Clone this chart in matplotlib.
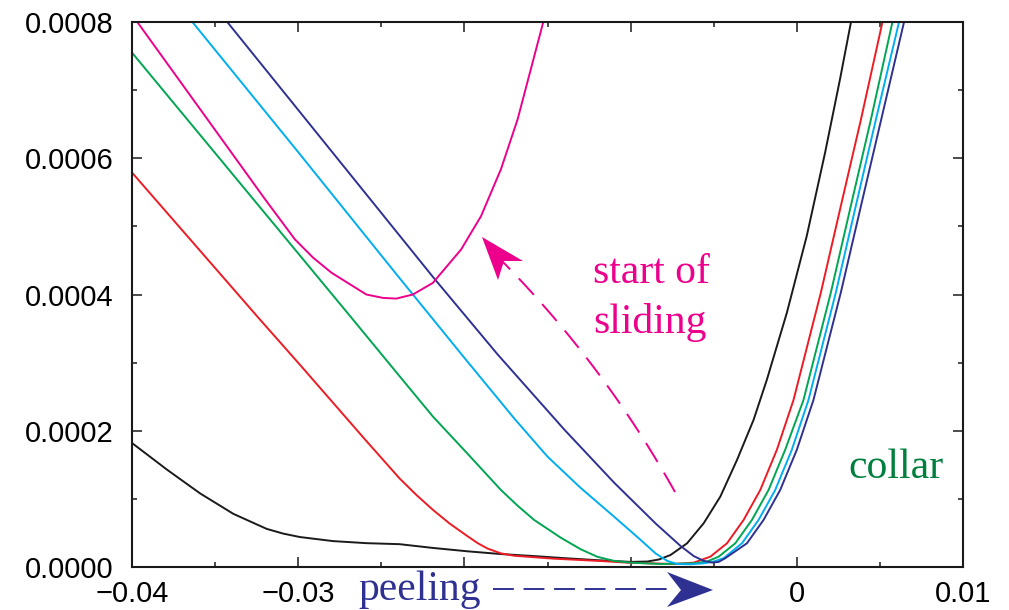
import numpy as np
import matplotlib
matplotlib.use("Agg")
import matplotlib.pyplot as plt
from matplotlib.lines import Line2D
from matplotlib.patches import Polygon
from matplotlib.ticker import MultipleLocator, FixedLocator, FixedFormatter

plt.rcParams['lines.scale_dashes'] = False

# ---------------- data (y in units of 1e-4) ----------------
black_x = [-0.0400, -0.0379, -0.0359, -0.0339, -0.0319, -0.0309, -0.0299, -0.0279, -0.0259,
           -0.0239, -0.0219, -0.0198, -0.0178, -0.0158, -0.0140, -0.0120, -0.0100, -0.0090,
           -0.0083, -0.0076, -0.0066, -0.0056, -0.0046, -0.0036, -0.0026, -0.0018, -0.0006,
           0.0006, 0.0017, 0.0026, 0.0033]
black_y = [1.82, 1.43, 1.08, 0.78, 0.56, 0.49, 0.44, 0.38, 0.35,
           0.335, 0.28, 0.23, 0.19, 0.16, 0.13, 0.10, 0.075, 0.08,
           0.11, 0.176, 0.348, 0.643, 1.034, 1.57, 2.16, 2.75, 3.73,
           4.86, 6.08, 7.16, 8.05]

red_x = [-0.0400, -0.0324, -0.0299, -0.0279, -0.0259, -0.0239, -0.0229, -0.0219, -0.0209,
         -0.0198, -0.0192, -0.0186, -0.0178, -0.0170, -0.0146, -0.0118, -0.0102, -0.0074,
         -0.0062, -0.0052, -0.0042, -0.0032, -0.0022, -0.0012, -0.0002, 0.00145, 0.00265,
         0.00386, 0.0052]
red_y = [5.79, 3.66, 2.97, 2.41, 1.85, 1.30, 1.06, 0.84, 0.64,
         0.45, 0.35, 0.27, 0.20, 0.165, 0.122, 0.088, 0.064, 0.044,
         0.064, 0.152, 0.348, 0.691, 1.13, 1.72, 2.45, 4.03, 5.30,
         6.57, 8.05]

green_x = [-0.0400, -0.0268, -0.0240, -0.0219, -0.0198, -0.0178, -0.0168, -0.0158, -0.0142,
           -0.0130, -0.0120, -0.0110, -0.0100, -0.0082, -0.0062, -0.0054, -0.0047, -0.0037,
           -0.0027, -0.0017, -0.0007, 0.0004, 0.00205, 0.00325, 0.00446, 0.0058]
green_y = [7.55, 3.66, 2.83, 2.21, 1.66, 1.13, 0.90, 0.69, 0.43,
           0.26, 0.15, 0.09, 0.064, 0.044, 0.054, 0.08, 0.152, 0.348,
           0.691, 1.13, 1.72, 2.45, 4.03, 5.30, 6.57, 8.05]

cyan_x = [-0.0365, -0.0300, -0.0240, -0.0200, -0.0170, -0.0150, -0.0130, -0.0110, -0.0095,
          -0.0085, -0.0078, -0.0072, -0.0064, -0.0056, -0.0050, -0.0044, -0.0033, -0.0023,
          -0.0013, -0.0003, 0.0007, 0.00235, 0.00355, 0.00476, 0.0062]
cyan_y = [8.04, 6.09, 4.27, 3.07, 2.18, 1.62, 1.16, 0.74, 0.42,
          0.20, 0.09, 0.044, 0.04, 0.054, 0.08, 0.13, 0.348, 0.691,
          1.13, 1.72, 2.45, 4.03, 5.30, 6.57, 8.05]

navy_x = [-0.0344, -0.0260, -0.0219, -0.0180, -0.0140, -0.0110, -0.0085, -0.0070, -0.0062,
          -0.0056, -0.0051, -0.0047, -0.0043, -0.0030, -0.0020, -0.0010, 0.0000, 0.0010,
          0.00265, 0.00386, 0.00508, 0.0065]
navy_y = [8.04, 5.50, 4.26, 3.12, 2.02, 1.24, 0.64, 0.31, 0.16,
          0.09, 0.065, 0.075, 0.13, 0.348, 0.691, 1.13, 1.72, 2.45,
          4.03, 5.30, 6.57, 8.05]

pink_x = [-0.0398, -0.0320, -0.0302, -0.0291, -0.0280, -0.0259, -0.0249, -0.0241, -0.0231,
          -0.0219, -0.0202, -0.0190, -0.0178, -0.0168, -0.0160, -0.0152]
pink_y = [8.04, 5.40, 4.81, 4.54, 4.32, 4.00, 3.95, 3.94, 4.00,
          4.17, 4.66, 5.15, 5.84, 6.57, 7.31, 8.05]

series = [
    (black_x, black_y, '#1a1a1a'),
    (red_x, red_y, '#ED1C24'),
    (green_x, green_y, '#00A651'),
    (cyan_x, cyan_y, '#00AEEF'),
    (navy_x, navy_y, '#2E3192'),
    (pink_x, pink_y, '#EC008C'),
]

x_ticks = [-0.04, -0.03, -0.02, -0.01, 0.0, 0.01]
x_ticklabels = ['\u22120.04', '\u22120.03', '', '', '0', '0.01']
y_ticks = [0.0, 0.0002, 0.0004, 0.0006, 0.0008]
y_ticklabels = ['0.0000', '0.0002', '0.0004', '0.0006', '0.0008']

# ---------------- figure ----------------
W, H = 1009, 610
fig = plt.figure(figsize=(W / 100, H / 100), dpi=100)
ax = fig.add_axes([132 / W, 1 - 567 / H, 831 / W, 545 / H])

for xs, ys, c in series:
    ax.plot(xs, np.array(ys) * 1e-4, color=c, lw=1.4, solid_joinstyle='round')

ax.set_xlim(-0.04, 0.01)
ax.set_ylim(0, 0.0008)

ax.xaxis.set_major_locator(FixedLocator(x_ticks))
ax.xaxis.set_major_formatter(FixedFormatter(x_ticklabels))
ax.xaxis.set_minor_locator(MultipleLocator(0.005))
ax.yaxis.set_major_locator(FixedLocator(y_ticks))
ax.yaxis.set_major_formatter(FixedFormatter(y_ticklabels))
ax.yaxis.set_minor_locator(MultipleLocator(0.0001))

ax.tick_params(which='both', direction='in', top=True, right=True, width=1.1, color='#1a1a1a')
ax.tick_params(which='major', length=7.2)
ax.tick_params(which='minor', length=3.6)
ax.tick_params(axis='x', which='major', pad=9)
ax.tick_params(axis='y', which='major', pad=13)
for lab in ax.get_xticklabels() + ax.get_yticklabels():
    lab.set_fontfamily('Liberation Sans')
    lab.set_fontsize(21)
for s in ax.spines.values():
    s.set_linewidth(1.5)
    s.set_color('#1a1a1a')


def fp(x, y):
    return x / W, 1 - y / H


serif = 'Liberation Serif'
pink = '#EC008C'
navy = '#2E3192'

# annotations
tx, ty = fp(593, 283)
fig.text(tx, ty, 'start of', fontsize=30, family=serif, color=pink, ha='left', va='baseline')
tx, ty = fp(593, 333)
fig.text(tx, ty, 'sliding', fontsize=30, family=serif, color=pink, ha='left', va='baseline')
tx, ty = fp(848, 478)
fig.text(tx, ty, 'collar', fontsize=30, family=serif, color='#00803E', ha='left', va='baseline')
tx, ty = fp(358, 600)
fig.text(tx, ty, 'peeling', fontsize=30, family=serif, color=navy, ha='left', va='baseline')

# pink curved dashed arrow
P0 = np.array([675, 492.0]); C = np.array([604, 365.0]); P1 = np.array([503, 262.0])
t = np.linspace(0, 1, 60)[:, None]
B = (1 - t) ** 2 * P0 + 2 * (1 - t) * t * C + t ** 2 * P1
fig.add_artist(Line2D(B[:, 0] / W, 1 - B[:, 1] / H, transform=fig.transFigure,
                      color=pink, lw=1.4, linestyle=(0, (16, 9))))
head = [fp(482, 237), fp(523, 261), fp(504, 261), fp(498, 280)]
fig.add_artist(Polygon(head, closed=True, transform=fig.transFigure, color=pink, lw=0))

# navy dashed arrow
fig.add_artist(Line2D([493 / W, 676 / W], [1 - 589 / H, 1 - 589 / H], transform=fig.transFigure,
                      color=navy, lw=1.4, linestyle=(0, (15, 7))))
head2 = [fp(713, 590), fp(667, 572), fp(681, 590), fp(667, 607)]
fig.add_artist(Polygon(head2, closed=True, transform=fig.transFigure, color=navy, lw=0))

fig.savefig('out.png', dpi=100)
